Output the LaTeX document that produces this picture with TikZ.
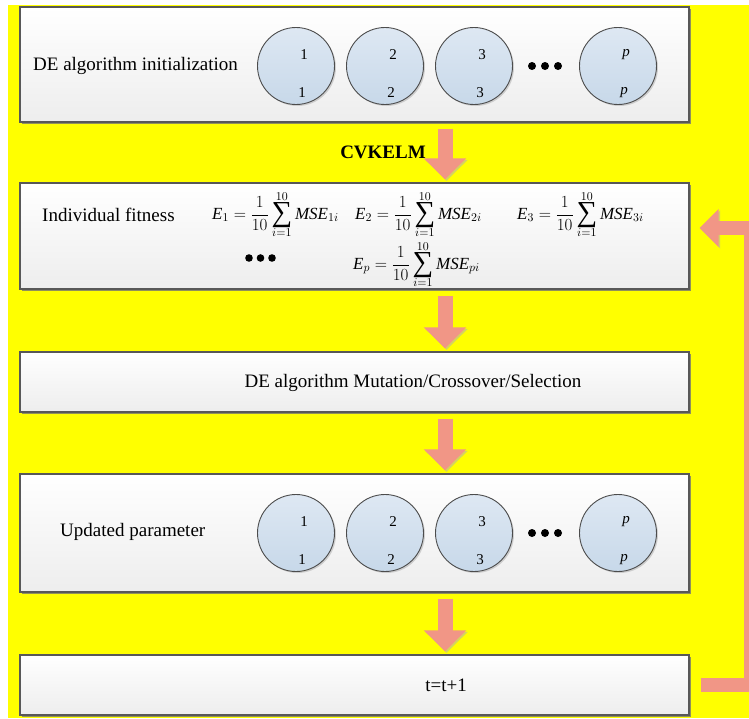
\RequirePackage{fix-cm}
\documentclass[tikz,border=0pt]{standalone}
\usepackage{fontspec}
\setmainfont{Liberation Serif}
\usetikzlibrary{arrows.meta}
\usetikzlibrary{calc}
\usetikzlibrary{shadows}
\definecolor{bgyellow}{RGB}{255,255,0}
\definecolor{arrowred}{RGB}{241,150,134}
\definecolor{arrowshade}{RGB}{214,210,96}
\definecolor{cellblue}{RGB}{222,232,243}
\definecolor{celldeep}{RGB}{199,216,233}
\definecolor{boxline}{RGB}{88,88,88}
\tikzset{
  stage/.style={draw=boxline, line width=1.2pt, top color=white, bottom color=black!7,
    minimum width=669pt, inner sep=0pt,
    drop shadow={shadow xshift=1.6pt, shadow yshift=-1.6pt, fill=black!55, opacity=0.8}},
  cell/.style={circle, draw=black!70, line width=0.9pt, top color=cellblue, bottom color=celldeep,
    minimum size=77pt, inner sep=0pt,
    drop shadow={shadow xshift=1.5pt, shadow yshift=-1.5pt, fill=black, opacity=0.15}},
  num/.style={font=\fontsize{15}{18}\selectfont, inner sep=0pt},
  txt/.style={font=\fontsize{19}{22}\selectfont, inner sep=0pt},
  eqn/.style={font=\fontsize{17}{20}\selectfont, inner sep=0pt, anchor=base west},
  fat/.style={draw=arrowred, line width=15pt, -{Triangle[width=41pt,length=21pt]},
    preaction={draw=arrowshade, transform canvas={shift={(1.5pt,-1.5pt)}}}}
}
\newcommand{\bigsum}{\mathop{\vcenter{\hbox{\fontsize{29}{29}\selectfont ∑}}}\limits}
\newcommand{\fitness}[2]{$\displaystyle \mathit{E}_{#1}=\frac{1}{10}\bigsum_{i=1}^{10}\mathit{MSE}_{#2}$}

\begin{document}
\begin{tikzpicture}[x=1pt, y=-1pt]
  \useasboundingbox (0,0) rectangle (749,718);
  \fill[bgyellow] (8,5) rectangle (749,718);
  \xdef\cx{354.5}
  \xdef\ax{90.5}
  \node[stage, minimum height=115pt] (init) at (\cx,64.5) {};
  \node[stage, minimum height=106pt] (fit) at (\cx,236) {};
  \node[stage, minimum height=60pt] (evol) at (\cx,382) {};
  \node[stage, minimum height=118pt] (upd) at (\cx,533) {};
  \node[stage, minimum height=60pt] (iter) at (\cx,685) {};

  \node[txt, anchor=west] (initlbl) at (33,66) {DE algorithm initialization};
  \node[txt, anchor=west] (fitlbl) at (42,215) {Individual fitness};
  \node[txt] (evollbl) at (413,383) {DE algorithm Mutation/Crossover/Selection};
  \node[txt, anchor=west] (updlbl) at (60,532) {Updated parameter};
  \node[txt] (iterlbl) at (446,685) {t=t+1};

  \foreach \n/\x/\t in {1/296/1,2/385/2,3/474/3,p/618/\textit{p}}{
    \node[cell] (init\n) at (\x,66) {};
    \node[num] at ($(init\n)+(8,-11)$) {\t};
    \node[num] at ($(init\n)+(6,27)$) {\t};
    \node[cell] (upd\n) at (\x,533) {};
    \node[num] at ($(upd\n)+(8,-11)$) {\t};
    \node[num] at ($(upd\n)+(6,27)$) {\t};
  }
  \foreach \y in {66,533}{
    \foreach \k in {0,1,2}
      \fill ({532+13*\k},\y) circle (4pt);
  }
  \foreach \k in {0,1,2}
    \fill ({249+11.5*\k},258) circle (3.8pt);

  \node[eqn] (e1) at (212,219) {\fitness{1}{1i}};
  \node[eqn] (e2) at (355,219) {\fitness{2}{2i}};
  \node[eqn] (e3) at (517,219) {\fitness{3}{3i}};
  \node[eqn] (ep) at (353,269) {\fitness{p}{pi}};

  \node[txt] (kern) at (383,152) {\textbf{CVKELM}};
  \foreach \a/\b in {init/fit,fit/evol,evol/upd,upd/iter}
    \draw[fat] ($(\a.south)+(\ax,6)$) -- ($(\b.north)+(\ax,-3)$);
  \draw[fat, line width=14pt, -{Triangle[width=37pt,length=19pt]}]
    ($(iter.east)+(11,0)$) -- ++(50,0) |- ($(fit.east)+(10,-8)$);
\end{tikzpicture}
\end{document}
